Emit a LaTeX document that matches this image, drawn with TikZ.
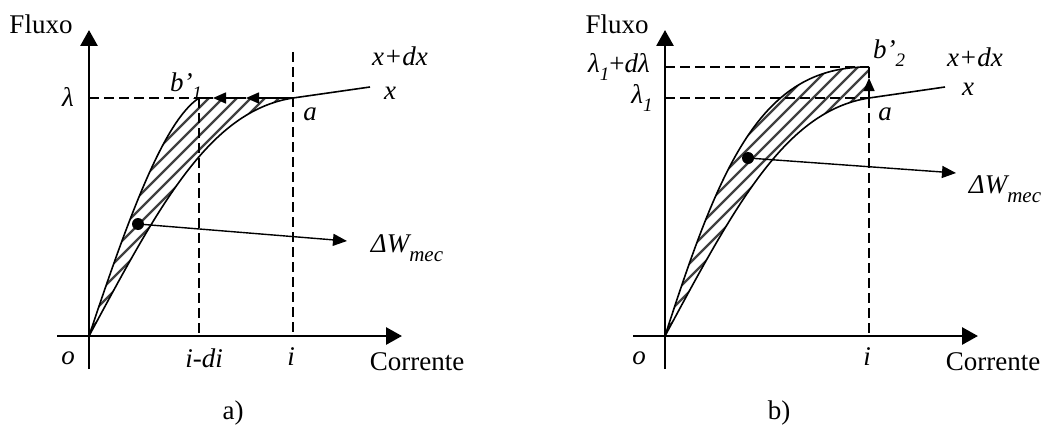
\documentclass[tikz,border=0pt]{standalone}
\usepackage{fontspec}
\setmainfont{Liberation Serif}
\usetikzlibrary{arrows.meta}
\newcommand{\sbs}[1]{\raisebox{-0.28em}{\fontsize{19}{19}\selectfont #1}}
\newcommand{\sbm}[1]{\raisebox{-0.32em}{\fontsize{21}{21}\selectfont #1}}
\begin{document}
\begin{tikzpicture}[x=1pt,y=-1pt,
  axis/.style={line width=2.8pt,-{Triangle[length=16pt,width=17pt]}},
  curve/.style={line width=1.6pt},
  dashedline/.style={line width=1.6pt,dash pattern=on 10pt off 5pt},
  lbl/.style={font=\fontsize{27}{30}\selectfont\itshape, inner sep=0pt},
  txt/.style={font=\fontsize{27}{30}\selectfont, inner sep=0pt},
  hatchline/.style={draw=black!75, line width=2.3pt},
  dotmark/.style={circle,fill=black,inner sep=0pt,minimum size=12pt},
  ptr/.style={line width=1.4pt,-{Triangle[length=14pt,width=12pt]}},
  smallptr/.style={line width=1.6pt,-{Triangle[length=13pt,width=11pt]}},
]
\useasboundingbox (0,0) rectangle (1043,428);

% ---------------- panel a ----------------
\begin{scope}[shift={(89,336)}]
  \coordinate (aO) at (0,0);
  \coordinate (aYtop) at (0,-306);
  \coordinate (aYbot) at (0,33);
  \coordinate (aXl) at (-32,0);
  \coordinate (aXr) at (313,0);
  \coordinate (aA) at (204,-238);
  \coordinate (aB) at (110,-238);
  \coordinate (aL) at (0,-238);
  \coordinate (aItop) at (204,-284);
  \coordinate (aIbot) at (204,0);
  \coordinate (aDIbot) at (110,0);
  \coordinate (aXend) at (281,-249);
  \coordinate (aM1) at (157,-238);
  \coordinate (aM2) at (124,-238);
  \coordinate (aArr) at (258,-95);

  \begin{scope}
    \clip (aO) .. controls (40,-120) and (75,-215) .. (aB) -- (aA)
      .. controls (120,-225) and (70,-130) .. (aO) -- cycle;
    \foreach \k in {-300,-286,...,230} \draw[hatchline] (\k,0) -- ++(300,-300);
  \end{scope}

  \draw[dashedline] (aL) -- (aB);
  \draw[dashedline] (aB) -- (aDIbot);
  \draw[dashedline] (aItop) -- (aIbot);
  \draw[curve] (aO) .. controls (40,-120) and (75,-215) .. (aB);
  \draw[curve] (aO) .. controls (70,-130) and (120,-225) .. (aA) -- (aXend);
  \draw[smallptr] (aA) -- (aM1);
  \draw[smallptr] (aM1) -- (aM2);
  \draw[line width=1.6pt] (aM2) -- (aB);
  \draw[axis] (aXl) -- (aXr);
  \draw[axis] (aYbot) -- (aYtop);
  \node[dotmark] (aDot) at (49,-112) {};
  \draw[ptr] (aDot.center) -- (aArr);

  \node[txt] (aFluxo) at (-48,-312) {Fluxo};
  \node[lbl] (aLam) at (-21,-239) {λ};
  \node[lbl] (aBlab) at (97,-250) {b'\sbs{1}};
  \node[lbl] (aAlab) at (221,-222) {a};
  \node[lbl] (aXdx) at (311,-280) {x+dx};
  \node[lbl] (aXlab) at (301,-243) {x};
  \node[lbl] (aW) at (318,-88) {ΔW\sbm{mec}};
  \node[lbl] (aOlab) at (-21,22) {o};
  \node[lbl] (aIdi) at (115,22) {i-di};
  \node[lbl] (aIlab) at (202,21) {i};
  \node[txt] (aCorr) at (328,26) {Corrente};
  \node[txt] (aCap) at (144,77) {a)};
\end{scope}

% ---------------- panel b ----------------
\begin{scope}[shift={(665,336)}]
  \coordinate (bO) at (0,0);
  \coordinate (bYtop) at (0,-306);
  \coordinate (bYbot) at (0,33);
  \coordinate (bXl) at (-32,0);
  \coordinate (bXr) at (313,0);
  \coordinate (bA) at (204,-238);
  \coordinate (bB) at (204,-269);
  \coordinate (bL1) at (0,-238);
  \coordinate (bL2) at (0,-269);
  \coordinate (bIbot) at (204,0);
  \coordinate (bXend) at (280,-249);
  \coordinate (bM) at (204,-258);
  \coordinate (bArr) at (291,-163);

  \begin{scope}
    \clip (bO) .. controls (55,-170) and (95,-270) .. (bB) -- (bA)
      .. controls (120,-225) and (70,-130) .. (bO) -- cycle;
    \foreach \k in {-300,-286,...,230} \draw[hatchline] (\k,0) -- ++(300,-300);
  \end{scope}

  \draw[dashedline] (bL2) -- (bB);
  \draw[dashedline] (bL1) -- (bA);
  \draw[dashedline] (bA) -- (bIbot);
  \draw[curve] (bO) .. controls (55,-170) and (95,-270) .. (bB);
  \draw[curve] (bO) .. controls (70,-130) and (120,-225) .. (bA) -- (bXend);
  \draw[smallptr] (bA) -- (bM);
  \draw[line width=1.6pt] (bM) -- (bB);
  \draw[axis] (bXl) -- (bXr);
  \draw[axis] (bYbot) -- (bYtop);
  \node[dotmark] (bDot) at (83,-178) {};
  \draw[ptr] (bDot.center) -- (bArr);

  \node[txt] (bFluxo) at (-48,-312) {Fluxo};
  \node[lbl] (bLam2) at (-46,-269) {λ\sbs{1}\upshape+\itshape dλ};
  \node[lbl] (bLam1) at (-23,-238) {λ\sbs{1}};
  \node[lbl] (bBlab) at (224,-283) {b'\sbs{2}};
  \node[lbl] (bAlab) at (220,-222) {a};
  \node[lbl] (bXdx) at (310,-279) {x+dx};
  \node[lbl] (bXlab) at (303,-247) {x};
  \node[lbl] (bW) at (340,-147) {ΔW\sbm{mec}};
  \node[lbl] (bOlab) at (-26,22) {o};
  \node[lbl] (bIlab) at (202,21) {i};
  \node[txt] (bCorr) at (328,26) {Corrente};
  \node[txt] (bCap) at (114,77) {b)};
\end{scope}
\end{tikzpicture}
\end{document}
